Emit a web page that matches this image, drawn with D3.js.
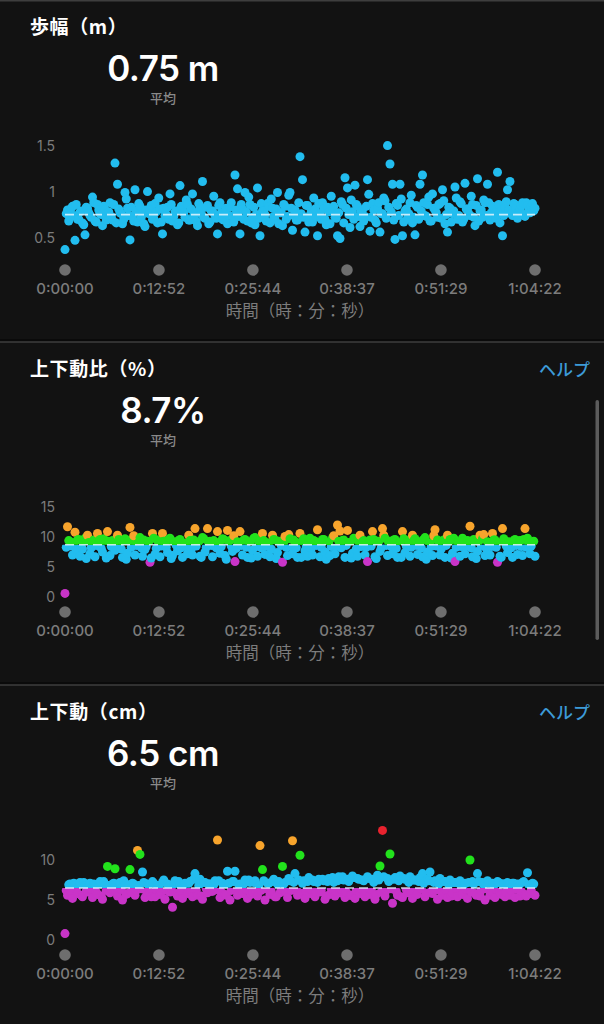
<!DOCTYPE html>
<html><head><meta charset="utf-8">
<script src="https://cdn.jsdelivr.net/npm/d3@7"></script>
<style>html,body{margin:0;padding:0;background:#121212;}svg{display:block}</style>
</head><body><svg id="c" width="604" height="1024"></svg>
<script>
// ---------- DATA ----------
const durationSec = 3862;
const tickTimes = [0, 772, 1544, 2317, 3089, 3862];
const tickLabels = ["0:00:00", "0:12:52", "0:25:44", "0:38:37", "0:51:29", "1:04:22"];

// samples on the main grid (every ~20.5 s)
const strideLength = [
0.37,0.80,0.72,0.84,0.47,0.70,0.78,0.66,0.53,0.82,
0.74,0.94,0.68,0.86,0.76,0.63,0.80,0.71,0.88,0.69,
1.31,1.08,0.77,0.65,0.99,0.82,0.475,0.73,1.02,0.67,
0.84,0.76,0.62,1.00,0.79,0.70,0.87,0.66,0.81,0.54,
0.74,0.83,0.975,0.68,0.78,0.64,1.065,0.80,0.72,0.86,
0.69,0.975,0.77,0.63,0.82,1.11,0.71,0.85,0.67,0.79,
0.74,0.54,0.88,0.70,0.76,0.65,0.83,0.73,1.18,1.03,
0.54,0.81,0.99,0.68,0.86,0.72,0.64,1.04,0.52,0.79,
0.75,0.87,0.66,0.82,0.70,0.99,0.77,0.63,0.84,0.73,
0.99,0.58,0.80,0.69,1.38,1.13,0.56,0.85,0.74,0.67,
0.81,0.52,0.76,0.88,0.70,0.83,0.65,0.79,0.72,0.52,
0.49,0.86,1.15,1.04,0.61,0.78,1.07,0.84,0.62,0.80,
0.73,1.13,0.57,0.87,0.69,0.82,0.56,0.76,0.90,1.50,
1.30,1.08,0.48,0.85,1.08,0.52,0.79,0.71,0.88,0.66,
0.53,0.83,1.08,1.18,0.74,0.86,0.68,0.975,0.80,0.72,
0.87,1.02,0.65,0.56,0.82,0.76,1.05,0.70,0.89,0.67,
1.09,0.81,0.74,0.86,0.63,1.14,0.79,0.72,0.88,1.08,
0.69,0.84,0.77,1.21,0.66,0.52,0.83,1.02,1.11,0.74,
0.86,0.71,0.80,0.88,0.73,0.85,0.77,0.87,0.82];
// samples half-way between the main grid
const strideLengthMid = [
0.76,0.68,0.82,0.74,0.86,0.70,0.79,0.64,0.83,0.77,
0.72,0.88,0.67,0.80,0.75,0.84,0.69,0.78,0.73,0.86,
0.66,0.81,0.76,0.70,0.92,0.74,0.83,0.68,0.79,0.87,
0.72,0.65,0.80,0.76,0.85,0.71,0.78,0.93,0.67,0.82,
0.75,0.70,0.86,0.73,0.79,0.66,0.84,0.77,0.91,0.69,
0.81,0.74,0.68,0.87,0.76,0.72,0.83,0.65,0.79,0.95,
0.71,0.85,0.77,0.69,0.82,0.74,0.88,0.67,0.80,0.73,
0.86,0.70,0.78,0.94,0.66,0.83,0.75,0.71,0.87,0.79,
0.68,0.84,0.92,0.73,0.81,0.65,0.77,0.86,0.70,0.96,
0.82,0.74,0.69,0.88,0.76,0.72,0.85,0.67,0.79,0.93,
0.73,0.87,0.70,0.81,0.64,0.78,0.95,0.84,0.71,0.77,
0.89,0.66,0.82,0.75,0.91,0.70,0.86,0.73,0.79,0.68,
0.84,0.97,0.72,0.80,0.66,0.88,0.76,0.93,0.71,0.83,
0.78,0.69,0.87,0.74,0.92,0.67,0.81,0.76,0.96,0.72,
0.85,0.70,0.79,0.88,0.73,0.94,0.68,0.82,0.77,0.86,
0.71,0.90,0.75,0.83,0.67,0.79,0.93,0.74,0.87,0.70,
0.81,0.76,0.95,0.72,0.85,0.68,0.80,0.91,0.74,0.88,
0.77,0.83,0.71,0.86,0.79,0.74,0.89,0.80,0.76,0.87,
0.82,0.78,0.85,0.75,0.88,0.80,0.84,0.79];

const verticalRatio = [
0.6,11.7,9.2,7.0,10.8,9.5,6.8,8.0,9.8,10.3,
7.2,9.1,6.7,10.6,9.6,7.5,8.9,10.9,6.9,9.4,
7.8,10.3,9.0,6.6,9.7,7.3,11.6,9.2,7.0,8.9,
9.9,6.8,7.9,9.3,5.8,10.6,7.1,9.5,6.7,10.6,
9.0,7.4,9.8,6.9,9.2,7.7,9.6,6.6,8.8,7.2,
9.4,7.0,11.4,9.1,6.8,9.9,7.5,11.4,9.3,6.7,
9.0,10.9,7.3,9.7,6.9,11.1,9.4,7.6,5.9,9.2,
10.9,7.0,9.6,6.6,9.1,7.8,9.9,6.8,9.3,10.6,
7.1,9.0,6.7,10.3,9.5,7.4,9.2,5.8,10.1,6.9,
9.7,7.2,9.0,6.6,10.6,9.4,7.7,6.8,9.8,7.0,
9.3,11.2,6.7,9.6,7.5,9.1,6.9,9.9,7.2,12.0,
11.0,9.4,6.6,11.1,9.0,7.3,9.7,6.8,10.3,9.2,
7.0,5.9,9.5,10.9,6.7,9.1,7.6,11.4,9.8,6.9,
9.3,7.2,9.6,6.6,9.0,10.9,7.4,9.4,6.8,10.3,
9.7,7.1,9.2,6.7,9.9,7.5,9.0,6.9,11.2,9.5,
7.0,9.3,6.6,10.3,9.6,7.3,5.9,9.1,6.8,9.8,
7.2,9.4,11.8,6.7,9.0,7.6,10.3,9.7,6.9,9.2,
7.0,10.6,9.5,5.8,6.8,11.4,9.3,7.4,9.0,6.6,
9.6,7.1,9.4,6.9,11.4,9.8,7.2,9.1,6.8];
const verticalRatioMid = [
8.3,9.4,8.5,9.0,7.9,9.6,8.4,9.2,6.4,9.1,
8.2,9.5,8.6,9.0,8.1,9.7,6.5,9.3,8.4,8.9,
8.5,9.6,8.0,9.1,6.3,9.4,8.3,10.2,8.6,9.0,
8.2,9.5,8.4,9.2,6.5,9.8,8.1,9.0,8.5,9.3,
8.3,9.6,6.4,9.1,8.6,9.4,8.2,9.0,8.4,10.3,
8.0,9.5,8.5,9.2,6.6,9.7,8.3,9.0,8.6,9.4,
8.2,9.1,8.4,9.6,6.3,9.3,8.5,10.2,8.1,9.0,
8.6,9.5,8.3,9.2,6.5,9.8,8.4,9.1,8.2,9.4,
8.5,9.0,8.0,9.6,6.4,9.3,8.6,9.1,8.3,10.4,
8.4,9.5,8.2,9.0,6.6,9.7,8.5,9.2,8.1,9.4,
8.6,9.1,8.3,9.6,6.3,9.0,8.4,10.2,8.5,9.3,
8.2,9.5,8.6,9.1,6.5,9.8,8.0,9.2,8.4,9.4,
8.3,9.0,8.5,9.6,6.4,9.3,8.2,10.3,8.6,9.1,
8.4,9.5,8.1,9.0,6.6,9.7,8.5,9.2,8.3,9.4,
8.6,9.1,8.2,9.6,6.3,9.0,8.4,10.2,8.5,9.3,
8.0,9.5,8.6,9.1,6.5,9.8,8.3,9.2,8.4,9.4,
8.5,9.0,8.2,9.6,6.4,9.3,8.6,10.4,8.1,9.1,
8.4,9.5,8.3,9.0,6.6,9.7,8.5,9.2,8.2,9.4,
8.6,9.1,8.4,9.6,8.3,9.0,8.5,9.3];

const verticalOsc = [
0.8,5.6,7.0,5.2,6.9,5.8,7.2,5.4,6.8,6.0,
7.1,5.3,6.9,5.7,7.3,5.1,6.8,9.2,5.9,7.0,
8.9,5.5,7.2,5.0,6.9,5.8,8.8,7.1,5.6,11.2,
10.7,8.5,5.3,7.0,5.9,7.3,5.4,6.8,5.7,7.2,
5.1,7.0,6.0,4.1,7.4,5.5,6.9,5.2,7.1,5.8,
7.3,5.4,8.3,5.6,7.6,5.1,7.2,5.9,7.0,6.1,
7.4,12.5,5.3,7.1,5.7,8.6,5.0,7.3,8.6,5.6,
7.0,5.8,7.5,5.2,7.2,6.0,7.4,5.5,11.8,8.8,
5.0,7.1,5.7,7.3,5.4,7.0,5.9,9.2,7.2,5.3,
7.4,12.4,8.3,5.6,10.6,7.1,5.2,7.3,5.8,7.5,
5.4,7.2,6.0,7.6,5.1,7.3,5.7,7.8,5.5,7.4,
5.9,7.9,5.3,7.6,5.6,8.0,5.2,7.7,5.8,7.5,
5.4,7.9,5.7,7.6,5.1,8.1,9.25,13.7,5.5,7.7,
10.75,4.6,7.8,5.6,8.0,5.3,7.6,5.9,7.9,5.2,
7.5,5.7,7.8,8.3,5.4,7.6,8.5,5.8,7.4,5.1,
7.7,5.6,7.3,5.3,7.5,5.9,7.2,5.4,7.4,5.7,
7.1,5.2,10.0,7.3,5.8,8.3,5.5,7.2,5.0,7.4,
5.6,7.1,5.3,7.3,5.9,7.0,5.4,7.2,5.6,7.1,
5.3,7.0,5.5,7.2,5.7,8.4,5.8,7.1,5.6];
const verticalOscMid = [
6.2,6.9,6.0,7.1,6.3,6.8,5.6,7.2,6.1,6.7,
6.3,7.0,6.0,6.9,5.5,7.3,6.2,6.8,6.4,7.1,
6.1,6.7,6.3,7.4,5.7,6.9,6.0,7.0,6.2,6.8,
6.4,7.2,6.1,6.9,5.4,7.1,6.3,6.7,6.0,7.5,
6.2,6.8,6.4,7.0,5.8,7.3,6.1,6.9,6.3,7.1,
6.0,7.6,6.2,6.8,5.5,7.2,6.4,7.0,6.1,6.9,
6.3,7.4,6.0,6.7,5.6,7.1,6.2,7.3,6.4,6.9,
6.1,7.0,6.3,7.5,5.7,7.2,6.0,6.8,6.2,7.4,
6.4,7.1,6.1,7.6,5.4,7.3,6.3,7.0,6.0,7.7,
6.2,7.2,6.4,7.5,5.8,7.4,6.1,7.8,6.3,7.3,
6.0,7.6,6.2,7.4,5.5,7.7,6.4,7.2,6.1,7.9,
6.3,7.5,6.0,7.3,5.6,7.8,6.2,7.6,6.4,7.4,
6.1,7.7,6.3,7.2,5.7,7.5,6.0,7.9,6.2,7.3,
6.4,7.6,6.1,7.4,5.4,7.7,6.3,7.2,6.0,7.5,
6.2,7.3,6.4,7.1,5.8,7.4,6.1,7.2,6.3,7.0,
6.0,7.3,6.2,6.9,5.5,7.2,6.4,7.1,6.1,6.9,
6.3,7.2,6.0,7.0,5.6,7.3,6.2,6.9,6.4,7.1,
6.1,6.8,6.3,7.2,5.7,7.0,6.0,6.9,6.2,7.1,
6.4,6.8,6.1,7.3,5.5,6.9,6.2,7.0];

const titles = ["歩幅（m）", "上下動比（%）", "上下動（cm）"];
const averages = [0.75, 8.7, 6.5];
const averageLabels = ["0.75 m", "8.7%", "6.5 cm"];
const yTicks = [[0.5, 1, 1.5], [0, 5, 10, 15], [0, 5, 10]];
const yTickLabels = [["0.5", "1", "1.5"], ["0", "5", "10", "15"], ["0", "5", "10"]];
const zoneThresholds = [[], [6, 8.7, 10.05], [6.5, 8.7, 11, 13]];

// ---------- STYLE / LAYOUT ----------
const C = {cyan:"#22bdef", purple:"#c934c8", green:"#22e21c", orange:"#f7a42c", red:"#e8222e"};
const zoneColors = [[C.cyan], [C.purple, C.cyan, C.green, C.orange], [C.purple, C.cyan, C.green, C.orange, C.red]];
const series = [[strideLength, strideLengthMid], [verticalRatio, verticalRatioMid], [verticalOsc, verticalOscMid]];
const panelTops = [0, 342, 685];
const domains = [[0.3, 1.55], [0, 19], [0, 14.25]];
const rangeRel = [[256, 141], [255, 141], [255, 141]];
const showHelp = [false, true, true];

const svg = d3.select("#c");
svg.append("rect").attr("width", 604).attr("height", 1024).attr("fill", "#121212");

const jp = "'Noto Sans CJK JP','Noto Sans',sans-serif";
const num = "Inter,'Open Sans',Roboto,sans-serif";

const x = d3.scaleLinear().domain([0, durationSec]).range([65, 535]);

series.forEach(([main, mid], p) => {
  const top = panelTops[p];
  const g = svg.append("g").attr("transform", `translate(0,${top})`);
  const y = d3.scaleLinear().domain(domains[p]).range(rangeRel[p]);
  const color = zoneThresholds[p].length
    ? d3.scaleThreshold().domain(zoneThresholds[p]).range(zoneColors[p])
    : () => zoneColors[p][0];
  const step = durationSec / (main.length - 1);
  const data = main.map((v, i) => ({t: i * step, v}))
    .concat(mid.map((v, i) => ({t: (i + 0.5) * step, v})))
    .sort((a, b) => a.t - b.t);

  // separator
  if (p > 0) {
    svg.append("rect").attr("x", 0).attr("y", top - 3).attr("width", 604).attr("height", 3).attr("fill", "#0a0a0a");
    svg.append("line").attr("x1", 0).attr("x2", 604).attr("y1", top).attr("y2", top)
      .attr("stroke", "#3e3e3e").attr("stroke-width", 1.5);
  } else {
    svg.append("line").attr("x1", 0).attr("x2", 604).attr("y1", 0.75).attr("y2", 0.75)
      .attr("stroke", "#3e3e3e").attr("stroke-width", 1.5);
  }

  // header
  g.append("text").attr("x", 30).attr("y", 34).text(titles[p])
    .attr("fill", "#fff").attr("font-family", jp).attr("font-weight", 700).attr("font-size", 19)
    .attr("letter-spacing", 0.6);
  if (showHelp[p]) {
    g.append("text").attr("x", 590).attr("y", 34).attr("text-anchor", "end").text("ヘルプ")
      .attr("fill", "#3d9bd8").attr("font-family", jp).attr("font-weight", 500).attr("font-size", 17);
  }
  g.append("text").attr("x", 163).attr("y", 81).attr("text-anchor", "middle").text(averageLabels[p])
    .attr("fill", "#fff").attr("font-family", num).attr("font-weight", 600).attr("font-size", 35)
    .attr("letter-spacing", -0.5);
  g.append("text").attr("x", 163).attr("y", 103).attr("text-anchor", "middle").text("平均")
    .attr("fill", "#8a8a8a").attr("font-family", jp).attr("font-weight", 500).attr("font-size", 13);

  // y tick labels
  g.selectAll(".yt").data(yTicks[p]).enter().append("text")
    .attr("x", 55).attr("y", d => y(d) + 5).attr("text-anchor", "end")
    .text((d, i) => yTickLabels[p][i])
    .attr("fill", "#7c7c7c").attr("font-family", num).attr("font-size", 14);

  // clip paths above / below the average line
  const split = y(averages[p]);
  const idA = `clipA${p}`, idB = `clipB${p}`;
  const defs = g.append("defs");
  defs.append("clipPath").attr("id", idA).append("rect").attr("x", 0).attr("y", 0).attr("width", 604).attr("height", split);
  defs.append("clipPath").attr("id", idB).append("rect").attr("x", 0).attr("y", split).attr("width", 604).attr("height", 400);

  const r = 4.5;
  const below = data.filter(d => d.v < averages[p]);
  const above = data.filter(d => d.v >= averages[p]);
  const gb = g.append("g").attr("clip-path", p > 0 ? `url(#${idB})` : null);
  gb.selectAll("circle").data(below).enter().append("circle")
    .attr("cx", d => x(d.t)).attr("cy", d => y(d.v)).attr("r", r).attr("fill", d => color(d.v));
  const ga = g.append("g").attr("clip-path", p > 0 ? `url(#${idA})` : null);
  ga.selectAll("circle").data(above).enter().append("circle")
    .attr("cx", d => x(d.t)).attr("cy", d => y(d.v)).attr("r", r).attr("fill", d => color(d.v));

  // average dashed line
  g.append("line").attr("x1", x(0)).attr("x2", x(durationSec)).attr("y1", split).attr("y2", split)
    .attr("stroke", "#e4f4fb").attr("stroke-opacity", 0.85).attr("stroke-width", 1.6).attr("stroke-dasharray", "9,5");

  // x axis: tick circles + labels
  g.selectAll(".xc").data(tickTimes).enter().append("circle")
    .attr("cx", d => x(d)).attr("cy", 270).attr("r", 5.8).attr("fill", "#6e6e6e");
  g.selectAll(".xl").data(tickTimes).enter().append("text")
    .attr("x", d => x(d)).attr("y", 294).attr("text-anchor", "middle")
    .text((d, i) => tickLabels[i])
    .attr("fill", "#7c7c7c").attr("font-family", num).attr("font-weight", 500).attr("font-size", 15);
  g.append("text").attr("x", 300).attr("y", 317).attr("text-anchor", "middle").text("時間（時：分：秒）")
    .attr("fill", "#7c7c7c").attr("font-family", jp).attr("font-size", 16.5);
});

// scrollbar
svg.append("rect").attr("x", 595.5).attr("y", 400).attr("width", 3.5).attr("height", 240).attr("rx", 1.75).attr("fill", "#5c5c5c");
</script></body></html>
